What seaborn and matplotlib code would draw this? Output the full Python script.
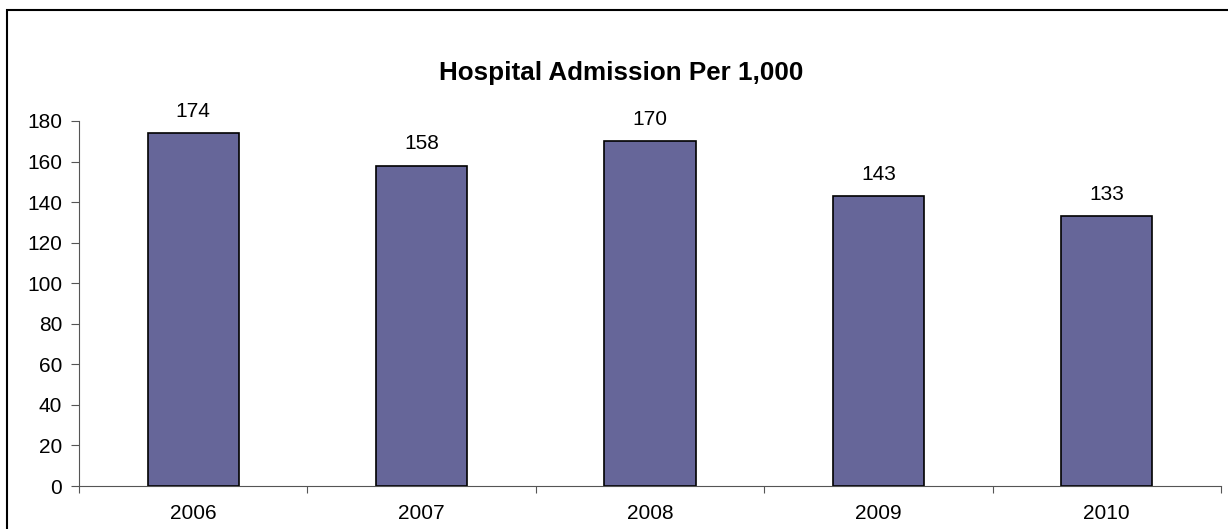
import matplotlib
matplotlib.use("Agg")
import matplotlib.pyplot as plt
from matplotlib.patches import Rectangle
import seaborn as sns
import pandas as pd

years = ["2006", "2007", "2008", "2009", "2010"]
admissions = [174, 158, 170, 143, 133]
y_ticks = [0, 20, 40, 60, 80, 100, 120, 140, 160, 180]

sns.set_theme(style="white")
plt.rcParams["font.family"] = ["Liberation Sans", "DejaVu Sans"]

df = pd.DataFrame({"Year": years, "Admissions": admissions})

fig = plt.figure(figsize=(12.28, 5.29), dpi=100)
ax = fig.add_axes([79 / 1228, 43 / 529, (1221 - 79) / 1228, (486 - 121) / 529])

sns.barplot(
    data=df,
    x="Year",
    y="Admissions",
    color="#666699",
    saturation=1,
    width=0.4,
    edgecolor="black",
    linewidth=1.2,
    ax=ax,
)

ax.bar_label(ax.containers[0], fmt="%d", padding=9, fontsize=15, color="black")

ax.set_xlim(-0.5, len(years) - 0.5)
ax.set_ylim(0, 180)
ax.set_yticks(y_ticks)
ax.set_xlabel("")
ax.set_ylabel("")

# tick marks between categories, labels centred under bars
ax.set_xticks([i - 0.5 for i in range(len(years) + 1)], minor=True)
ax.tick_params(axis="x", which="major", length=0, pad=13, labelsize=15, colors="black")
ax.tick_params(axis="x", which="minor", length=5, width=0.8, color="#555555", direction="out", bottom=True)
ax.tick_params(axis="y", length=6, width=0.8, color="#555555", pad=6, labelsize=15,
               labelcolor="black", direction="out", left=True)

for side in ["top", "right"]:
    ax.spines[side].set_visible(False)
for side in ["left", "bottom"]:
    ax.spines[side].set_color("#555555")
    ax.spines[side].set_linewidth(0.8)

fig.text(621 / 1228, 1 - 80 / 529, "Hospital Admission Per 1,000",
         ha="center", va="baseline", fontsize=18.7, fontweight="bold", color="black")

# outer chart border
fig.patches.append(Rectangle((7 / 1228, -0.1), 1.2, 1.1 - 10 / 529,
                             transform=fig.transFigure, fill=False,
                             edgecolor="black", linewidth=1.5))

fig.savefig("out.png", dpi=100)
